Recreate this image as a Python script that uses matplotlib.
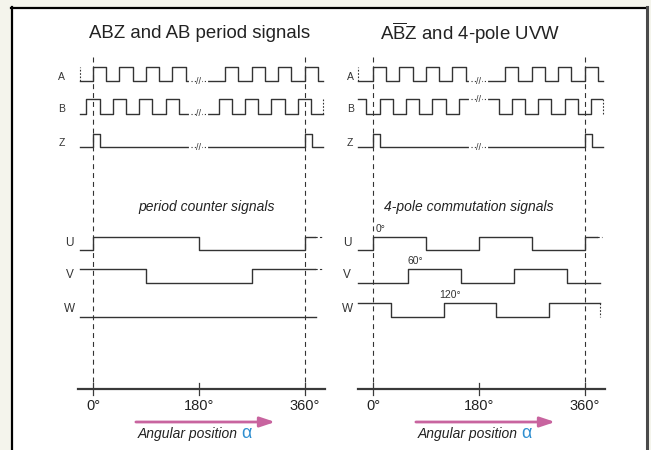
import matplotlib
matplotlib.use('Agg')
import matplotlib.pyplot as plt
from matplotlib.patches import Rectangle

plt.rcParams['font.family'] = ['Liberation Sans', 'DejaVu Sans']
plt.rcParams['mathtext.fontset'] = 'custom'
plt.rcParams['mathtext.rm'] = 'Liberation Sans'
plt.rcParams['mathtext.it'] = 'Liberation Sans:italic'

# ---- data (angles in degrees) ----
titles = ['ABZ and AB period signals', r'A$\overline{\mathrm{B}}$Z and 4-pole UVW']
subtitles = ['period counter signals', '4-pole commutation signals']
tick_deg = [0, 180, 360]
tick_labels = ['0°', '180°', '360°']

# incremental tracks (edges where the level toggles)
a_edges = [0, 22.5, 45, 67.5, 90, 112.5, 135, 157.5,
           225, 247.5, 270, 292.5, 315, 337.5, 360, 382.5]
b_edges = [-11.25, 11.25, 33.75, 56.25, 78.75, 101.25, 123.75, 146.25,
           213.75, 236.25, 258.75, 281.25, 303.75, 326.25, 348.75, 371.25]
z_edges = [0, 12, 360, 372]

# period counter signals (left)
u_left = [0, 180, 360]
v_left = [90, 270]
w_left = []

# 4-pole commutation (right)
u_right = [0, 90, 180, 270, 360]
v_right = [60, 150, 240, 330]
w_right = [30, 120, 210, 300]
phase_labels = ['0°', '60°', '120°']
phase_deg = [5, 58, 112]

# ---- layout (pixel rows, figure is 651x450) ----
W_PX, H_PX = 651, 450
S = 0.5875            # px per degree
ZERO = [93, 373]      # px of 0 deg in each panel
rows = {'A': (67, 81), 'B': (99, 114), 'Z': (134, 147),
        'U': (237, 250), 'V': (269, 283), 'W': (303, 317)}
LC = '#333333'
LW = 1.0

fig = plt.figure(figsize=(6.51, 4.5), dpi=100)
fig.patch.set_facecolor('#f4f4ec')

def fx(px):
    return px / W_PX

def fy(py):
    return 1 - py / H_PX

# white card with border
fig.add_artist(Rectangle((fx(12), fy(455)), fx(647) - fx(12), fy(8) - fy(455),
                         transform=fig.transFigure, facecolor='white',
                         edgecolor='none', zorder=0))
fig.add_artist(plt.Line2D([fx(12), fx(12)], [fy(7), 0], transform=fig.transFigure,
                          color='black', lw=1.6))
fig.add_artist(plt.Line2D([fx(11), fx(647)], [fy(8), fy(8)], transform=fig.transFigure,
                          color='black', lw=1.6))
fig.add_artist(plt.Line2D([fx(647), fx(647)], [fy(7), 0], transform=fig.transFigure,
                          color='#4a4a4a', lw=2.2))


def wave(start, end, edges, first_high, lo, hi):
    level, other = (hi, lo) if first_high else (lo, hi)
    xs, ys = [start], [level]
    for e in edges:
        xs += [e, e]
        ys += [level, other]
        level, other = other, level
    xs.append(end)
    ys.append(level)
    return xs, ys


def brk(ax, y):
    ax.plot([167, 193], [y, y], color='white', lw=3, zorder=3)
    ax.plot([167, 193], [y, y], color=LC, lw=0.8, ls=(0, (1, 2)), zorder=4)
    ax.text(180, y, '//', fontsize=6.5, color=LC, ha='center', va='center',
            zorder=5, bbox=dict(facecolor='white', edgecolor='none', pad=0.3))


panels = [(20, 315), (335, 300)]
axes = []
for i, (x0, w) in enumerate(panels):
    ax = fig.add_axes([fx(x0), 0, fx(w), 1])
    ax.set_xlim((x0 - ZERO[i]) / S, (x0 + w - ZERO[i]) / S)
    ax.set_ylim(H_PX, 0)
    ax.axis('off')
    ax.patch.set_alpha(0)
    axes.append(ax)

for i, ax in enumerate(axes):
    start = -22 if i == 0 else -25
    ax.text(165 if i == 1 else 182, 33, titles[i], fontsize=13.4, ha='center',
            va='center', color='#222222')

    # dashed reference lines
    for d in (0, 360):
        ax.plot([d, d], [57, 386], color=LC, lw=0.8, ls=(0, (4.5, 3.5)), zorder=1)

    lab_x = -53 if i == 0 else -39
    for name in ('A', 'B', 'Z'):
        ax.text(lab_x, (rows[name][0] + rows[name][1]) / 2 + 3, name, fontsize=7.5,
                ha='center', va='center', color=LC)

    lo, hi = rows['A'][1], rows['A'][0]
    ax.plot(*wave(start, 391, a_edges, False, lo, hi), color=LC, lw=LW, zorder=2)
    ax.plot([start, start], [lo, hi], color=LC, lw=0.8, ls=(0, (1.5, 1.5)))
    brk(ax, lo)

    lo, hi = rows['B'][1], rows['B'][0]
    if i == 0:
        ax.plot(*wave(start, 391, b_edges, False, lo, hi), color=LC, lw=LW, zorder=2)
        brk(ax, lo)
    else:
        ax.plot(*wave(start, 390, b_edges, True, lo, hi), color=LC, lw=LW, zorder=2)
        brk(ax, hi)
    ax.plot([391, 391], [lo, hi], color=LC, lw=0.8, ls=(0, (1.5, 1.5)))

    lo, hi = rows['Z'][1], rows['Z'][0]
    ax.plot(*wave(start, 391, z_edges, False, lo, hi), color=LC, lw=LW, zorder=2)
    brk(ax, lo)

    ax.text(194 if i == 0 else 163, 207, subtitles[i], fontsize=10, style='italic',
            ha='center', va='center', color='#222222')

    lab_x = -40 if i == 0 else -44
    for name in ('U', 'V', 'W'):
        ax.text(lab_x, (rows[name][0] + rows[name][1]) / 2 - 1, name, fontsize=8.5,
                ha='center', va='center', color=LC)

    if i == 0:
        lo, hi = rows['U'][1], rows['U'][0]
        ax.plot(*wave(start, 378, u_left, False, lo, hi), color=LC, lw=LW)
        ax.plot([378, 390], [hi, hi], color=LC, lw=0.8, ls=(0, (2, 2)))
        lo, hi = rows['V'][1], rows['V'][0]
        ax.plot(*wave(start, 378, v_left, True, lo, hi), color=LC, lw=LW)
        ax.plot([378, 390], [hi, hi], color=LC, lw=0.8, ls=(0, (2, 2)))
        lo, hi = rows['W'][1], rows['W'][0]
        ax.plot(*wave(start, 380, w_left, False, lo, hi), color=LC, lw=LW)
    else:
        lo, hi = rows['U'][1], rows['U'][0]
        ax.plot(*wave(start, 381, u_right, False, lo, hi), color=LC, lw=LW)
        ax.plot([381, 390], [hi, hi], color=LC, lw=0.8, ls=(0, (2, 2)))
        lo, hi = rows['V'][1], rows['V'][0]
        ax.plot(*wave(start, 386, v_right, False, lo, hi), color=LC, lw=LW)
        lo, hi = rows['W'][1], rows['W'][0]
        ax.plot(*wave(start, 386, w_right, True, lo, hi), color=LC, lw=LW)
        ax.plot([386, 386], [hi, lo], color=LC, lw=0.8, ls=(0, (1.5, 1.5)))
        for lab, d, r in zip(phase_labels, phase_deg, ('U', 'V', 'W')):
            ax.text(d, rows[r][0] - 8, lab, fontsize=7.5, ha='left',
                    va='center', color=LC)

    # angle axis
    ax.plot([-25, 395], [389, 389], color='#3a3a3a', lw=1.6)
    for d, lab in zip(tick_deg, tick_labels):
        ax.plot([d, d], [383, 395], color='#3a3a3a', lw=0.9)
        ax.text(d, 406, lab, fontsize=10.5, ha='center', va='center', color='#222222')

    ax.annotate('', xy=(310, 422), xytext=(73, 422),
                arrowprops=dict(arrowstyle='-|>,head_length=0.9,head_width=0.3',
                                color='#c8649f', lw=2.0, shrinkA=0, shrinkB=0))
    t = ax.text(76, 434, 'Angular position', fontsize=10, style='italic',
                ha='left', va='center', color='#222222')
    ax.annotate('α', xy=(1, 0.5), xycoords=t, xytext=(2.5, 0),
                textcoords='offset points', fontsize=13, color='#2f8fd0',
                ha='left', va='center')

fig.savefig('out.png', dpi=100, facecolor=fig.get_facecolor())
